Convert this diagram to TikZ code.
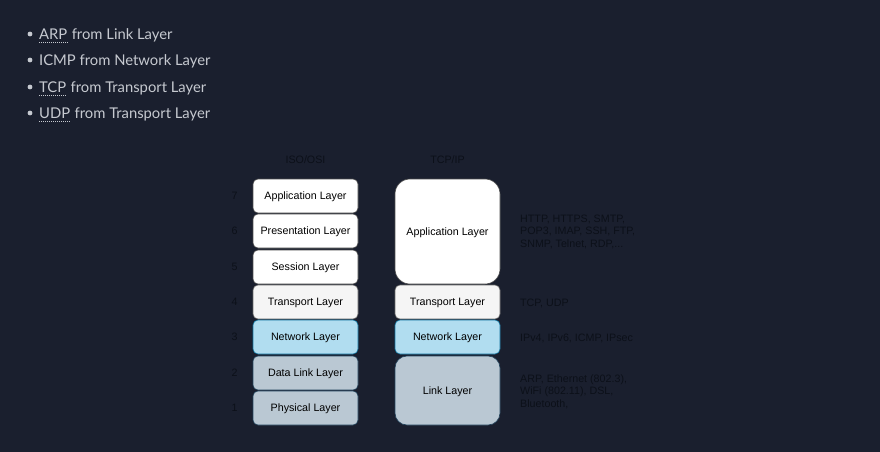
\documentclass[tikz,border=0pt]{standalone}
\usepackage{fontspec}
\setmainfont{Liberation Sans}
\newfontfamily\bulfont{Lato}
\definecolor{bg}{HTML}{1A1F2E}
\definecolor{bultext}{HTML}{C6C9D0}
\definecolor{dark}{HTML}{0C1019}
\definecolor{netfill}{HTML}{B1DDF0}
\definecolor{netdraw}{HTML}{10739E}
\definecolor{linkfill}{HTML}{BAC8D3}
\definecolor{linkdraw}{HTML}{23445D}
\definecolor{trfill}{HTML}{F5F5F5}
\definecolor{trdraw}{HTML}{666666}
\tikzset{
  bul/.style={font=\bulfont\fontsize{14.8}{18}\selectfont, text=bultext, inner sep=0pt},
  layer/.style={draw, line width=0.6pt, rounded corners=5pt, minimum width=105pt, minimum height=34pt, inner sep=0pt, text height=7.5pt, text depth=0.5pt, font=\fontsize{10.7}{12}\selectfont, text=black},
  whitebox/.style={layer, fill=white, draw=black!70},
  trbox/.style={layer, fill=trfill, draw=trdraw},
  netbox/.style={layer, fill=netfill, draw=netdraw},
  linkbox/.style={layer, fill=linkfill, draw=linkdraw},
  num/.style={font=\fontsize{10.7}{12}\selectfont, text=dark, inner sep=0pt, text height=7.5pt, text depth=0.5pt},
  proto/.style={font=\fontsize{10.7}{12.5}\selectfont, text=dark, inner sep=0pt, align=left, anchor=west},
  abbrline/.style={draw=bultext, line width=0.8pt, dash pattern=on 0.8pt off 1.2pt},
}
\begin{document}
\begin{tikzpicture}[x=1pt,y=-1pt]
\fill[bg] (0,0) rectangle (880,452);
\useasboundingbox (0,0) rectangle (880,452);
% bullets
\foreach \yy/\n in {34/1,60/2,87/3,113/4}{
  \fill[bultext] (30,\yy) circle (2.4pt);
}
\node[bul, anchor=base west] (a1) at (39,39.5) {ARP};
\node[bul, anchor=base west] (t1) at ([xshift=4pt]a1.base east) {from Link Layer};
\node[bul, anchor=base west] (t2) at (39,65.5) {ICMP from Network Layer};
\node[bul, anchor=base west] (a3) at (39,92.5) {TCP};
\node[bul, anchor=base west] (t3) at ([xshift=4pt]a3.base east) {from Transport Layer};
\node[bul, anchor=base west] (a4) at (39,118.5) {UDP};
\node[bul, anchor=base west] (t4) at ([xshift=4pt]a4.base east) {from Transport Layer};
\foreach \a in {a1,a3,a4}{
  \draw[abbrline] ([yshift=-3pt]\a.base west) -- ([yshift=-3pt]\a.base east);
}
% headers
\node[num] (hiso) at (305.5,160) {ISO/OSI};
\node[num] (htcp) at (447.5,160) {TCP/IP};
% OSI stack
\node[whitebox] (o7) at (305.5,196) {Application Layer};
\node[whitebox] (o6) at (305.5,231) {Presentation Layer};
\node[whitebox] (o5) at (305.5,267) {Session Layer};
\node[trbox] (o4) at (305.5,302) {Transport Layer};
\node[netbox] (o3) at (305.5,337) {Network Layer};
\node[linkbox] (o2) at (305.5,373) {Data Link Layer};
\node[linkbox] (o1) at (305.5,408) {Physical Layer};
% numbers
\foreach \k/\yy in {7/196,6/231,5/267,4/302,3/337,2/373,1/408}{
  \node[num] (n\k) at (234.5,\yy) {\k};
}
% TCP/IP stack
\node[whitebox, minimum height=105pt, rounded corners=15pt] (tapp) at (447.5,231.5) {Application Layer};
\node[trbox] (ttr) at (447.5,302) {Transport Layer};
\node[netbox] (tnet) at (447.5,337) {Network Layer};
\node[linkbox, minimum height=69pt, rounded corners=12pt] (tlink) at (447.5,390.5) {Link Layer};
% protocols
\node[proto] (p1) at (520,231.5) {HTTP, HTTPS, SMTP,\\POP3, IMAP, SSH, FTP,\\SNMP, Telnet, RDP,...};
\node[proto] (p2) at (520,303) {TCP, UDP};
\node[proto] (p3) at (520,338) {IPv4, IPv6, ICMP, IPsec};
\node[proto] (p4) at (520,391.5) {ARP, Ethernet (802.3),\\WiFi (802.11), DSL,\\Bluetooth,};
\end{tikzpicture}
\end{document}
